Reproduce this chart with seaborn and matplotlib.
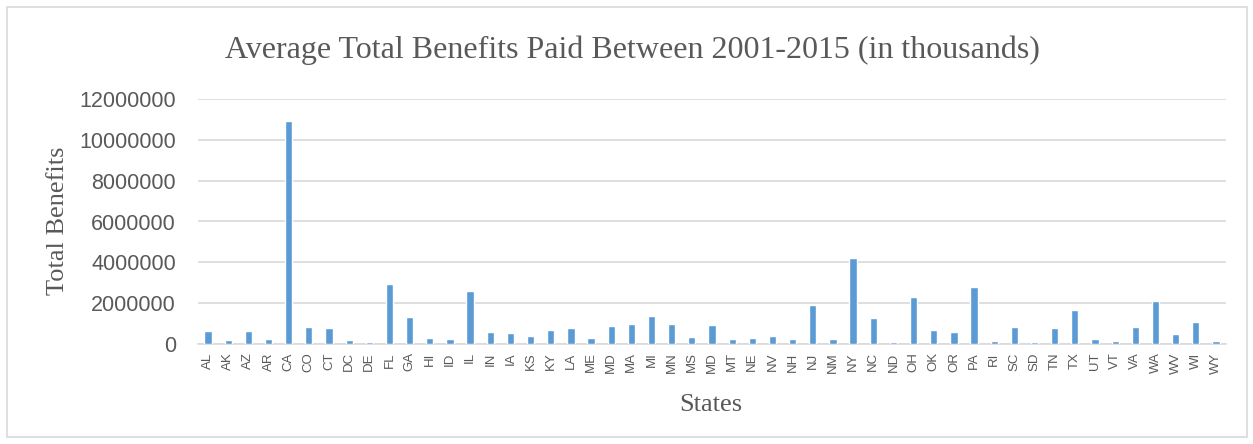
import pandas as pd
import matplotlib.pyplot as plt
import seaborn as sns
from matplotlib.patches import Rectangle

# Данные (средние выплаты по штатам, тыс.)
states = ["AL", "AK", "AZ", "AR", "CA", "CO", "CT", "DC", "DE", "FL", "GA",
          "HI", "ID", "IL", "IN", "IA", "KS", "KY", "LA", "ME", "MD", "MA",
          "MI", "MN", "MS", "MD", "MT", "NE", "NV", "NH", "NJ", "NM", "NY",
          "NC", "ND", "OH", "OK", "OR", "PA", "RI", "SC", "SD", "TN", "TX",
          "UT", "VT", "VA", "WA", "WV", "WI", "WY"]
benefits = [630000, 220000, 660000, 240000, 10920000, 810000, 790000, 210000,
            120000, 2940000, 1310000, 270000, 250000, 2580000, 610000, 530000,
            400000, 710000, 770000, 270000, 870000, 990000, 1380000, 1000000,
            340000, 920000, 250000, 300000, 380000, 240000, 1900000, 250000,
            4190000, 1290000, 120000, 2290000, 710000, 610000, 2790000, 170000,
            820000, 110000, 790000, 1680000, 250000, 140000, 820000, 2090000,
            510000, 1100000, 160000]
y_ticks = [0, 2000000, 4000000, 6000000, 8000000, 10000000, 12000000]

# уникальный ключ, т.к. "MD" встречается дважды
df = pd.DataFrame({"key": [str(i) for i in range(len(states))],
                   "state": states, "benefits": benefits})

sns.set_theme(style="white")
fig = plt.figure(figsize=(12.53, 4.44), dpi=100)
ax = fig.add_axes([198 / 1253, 1 - 344 / 444, 1028 / 1253, 245 / 444])

sns.barplot(data=df, x="key", y="benefits", color="#5B9BD5", saturation=1,
            width=0.36, ax=ax, zorder=3)

ax.set_ylim(0, 12000000)
ax.set_yticks(y_ticks)
ax.set_yticklabels([str(v) for v in y_ticks], fontsize=15.5,
                   family="Liberation Sans", color="#595959")
ax.set_xticks(range(len(states)))
ax.set_xticklabels(states, rotation=90, fontsize=9.5,
                   family="Liberation Sans", color="#595959")
ax.tick_params(axis="y", length=0, pad=16)
ax.tick_params(axis="x", length=0, pad=6)
ax.set_xlim(-0.5, len(states) - 0.5)

ax.grid(axis="y", color="#D9D9D9", linewidth=1.2, zorder=0)
ax.set_axisbelow(True)
for s in ["top", "right", "left"]:
    ax.spines[s].set_visible(False)
ax.spines["bottom"].set_color("#D9D9D9")
ax.spines["bottom"].set_linewidth(1.2)
ax.spines["bottom"].set_zorder(1)
ax.set_xlabel("")
ax.set_ylabel("")

# подписи
fig.text(632 / 1253, 1 - 50 / 444,
         "Average Total Benefits Paid Between 2001-2015 (in thousands)",
         ha="center", va="center", fontsize=23, family="Liberation Serif",
         color="#595959")
fig.text(58 / 1253, 1 - 221 / 444, "Total Benefits", rotation=90,
         ha="center", va="center", fontsize=19, family="Liberation Serif",
         color="#595959")
fig.text(711 / 1253, 1 - 405 / 444, "States", ha="center", va="center",
         fontsize=19, family="Liberation Serif", color="#595959")

# рамка области диаграммы
fig.patches.append(Rectangle((7 / 1253, 7 / 444), 1240 / 1253, 430 / 444,
                             transform=fig.transFigure, fill=False,
                             edgecolor="#D9D9D9", linewidth=1.2))

fig.savefig("out.png", dpi=100)
